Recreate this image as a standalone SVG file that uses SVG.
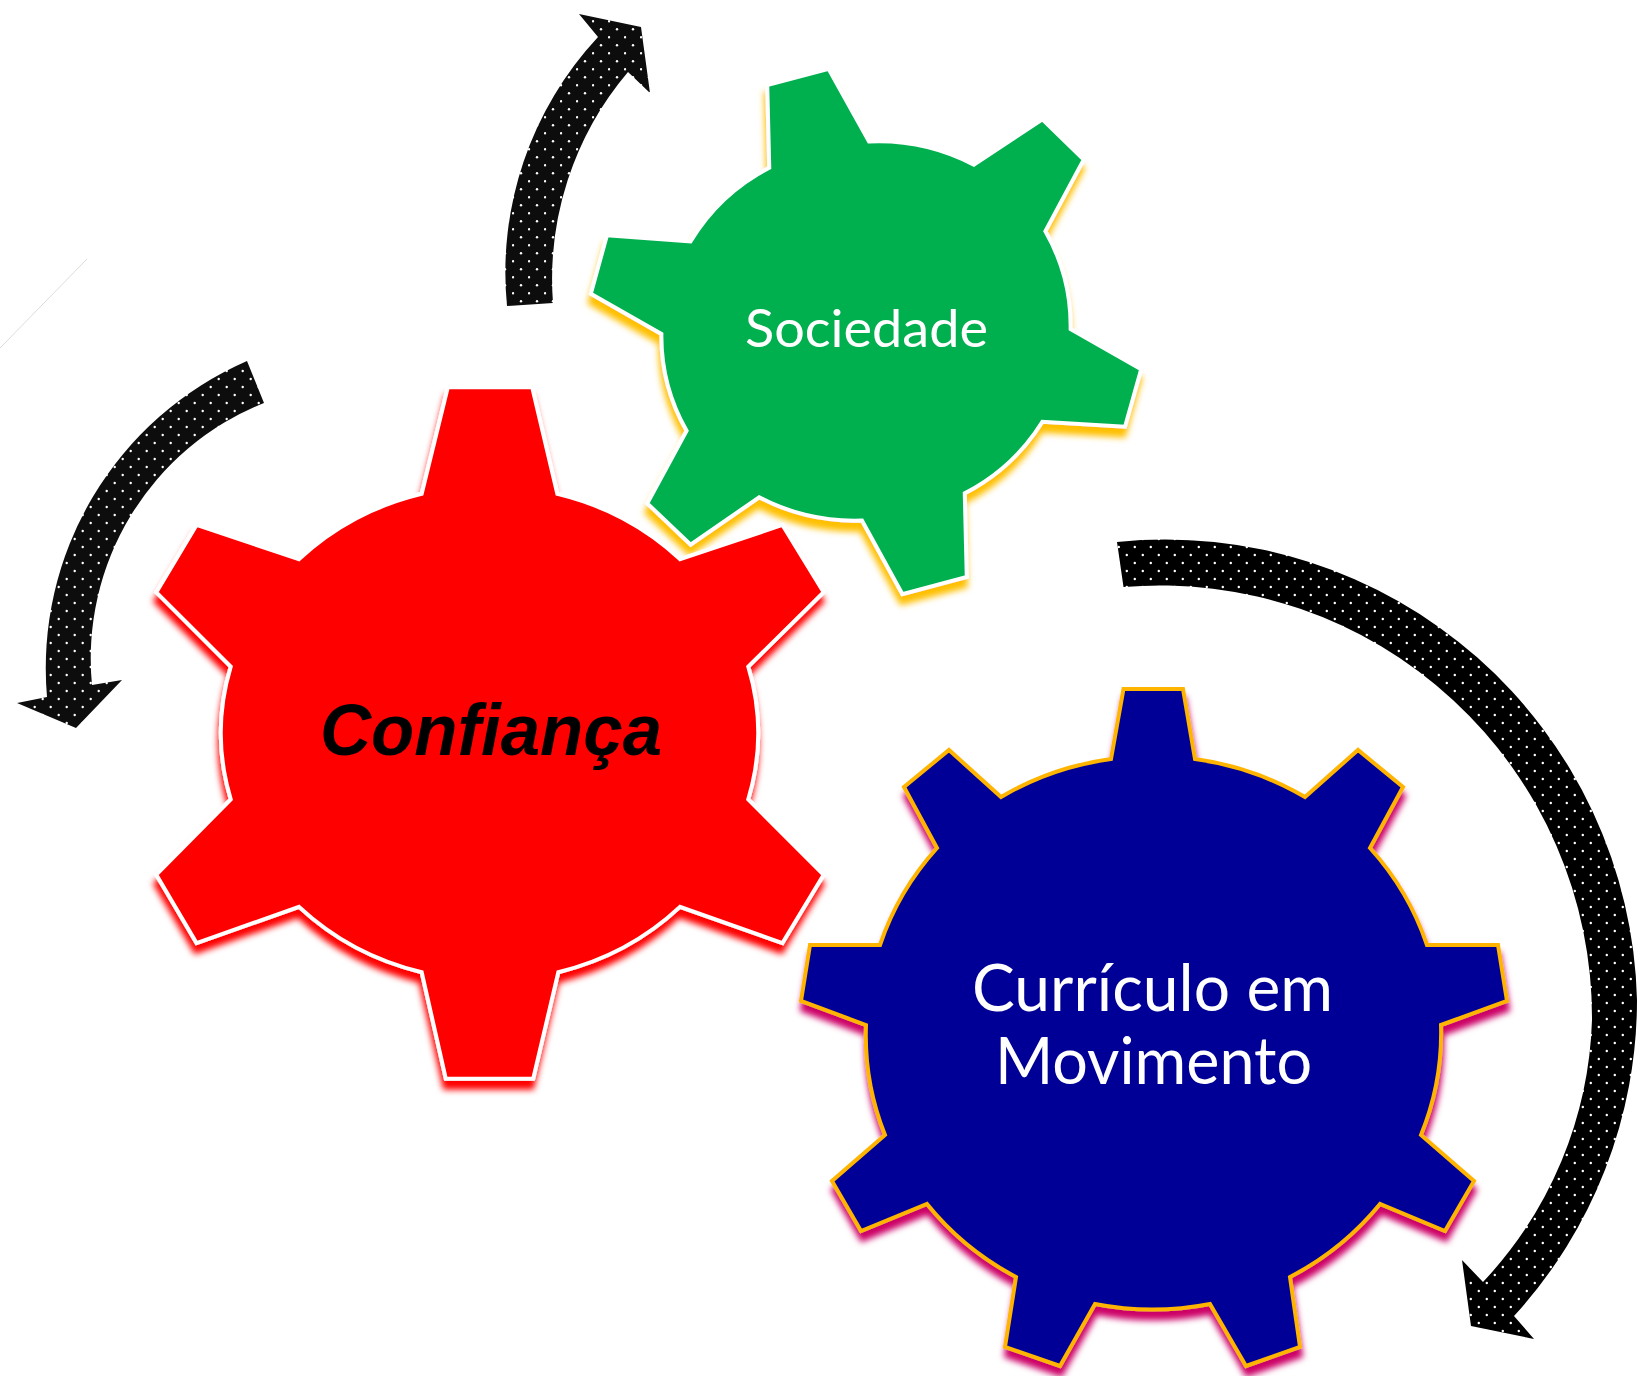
<svg xmlns="http://www.w3.org/2000/svg" width="1640" height="1376" viewBox="0 0 1640 1376">
<style>
.gear{stroke-width:4;stroke-linejoin:miter}
.lbl{fill:#fff;font-family:"Lato","Open Sans",sans-serif;font-size:62px;text-anchor:start}
</style>
<defs>
<pattern id="dotsL" width="16" height="16" patternUnits="userSpaceOnUse">
<rect width="16" height="16" fill="#0d0d0d"/><circle cx="2.7" cy="3" r="1.2" fill="#fff"/><circle cx="10.7" cy="11" r="1.2" fill="#fff"/>
</pattern>
<pattern id="dotsT" width="16" height="16" patternUnits="userSpaceOnUse">
<rect width="16" height="16" fill="#0d0d0d"/><circle cx="1" cy="5.3" r="1.2" fill="#fff"/><circle cx="9" cy="13.3" r="1.2" fill="#fff"/>
</pattern>
<pattern id="dotsB" width="16" height="16" patternUnits="userSpaceOnUse">
<rect width="16" height="16" fill="#000"/><circle cx="14.8" cy="3" r="1.2" fill="#fff"/><circle cx="6.8" cy="11" r="1.2" fill="#fff"/>
</pattern>
<filter id="shGreen" x="-10%" y="-10%" width="120%" height="120%"><feDropShadow dx="-1" dy="9" stdDeviation="3" flood-color="#ffc000"/></filter>
<filter id="shRed" x="-10%" y="-10%" width="120%" height="120%"><feDropShadow dx="-1" dy="9" stdDeviation="3" flood-color="#ff0000"/></filter>
<filter id="shBlue" x="-10%" y="-10%" width="120%" height="120%"><feDropShadow dx="1" dy="9" stdDeviation="3" flood-color="#cc0066"/></filter>
</defs>
<rect width="1640" height="1376" fill="#fff"/>
<line x1="87" y1="259" x2="0" y2="348" stroke="#dcdcd6" stroke-width="1"/>
<g id="connectors">
<path id="arrow-top" fill="url(#dotsT)" d="M507,306 A345,345 0 0 1 598,37 L579,14 L641,27 L650,93 L628,72 A320,320 0 0 0 553,303 Z"/>
<path id="arrow-left" fill="url(#dotsL)" d="M247,361 A335,335 0 0 0 47,697 L17,703 L76,728 L122,680 L92,685 A275,275 0 0 1 264,403 Z"/>
<path id="arrow-right" fill="url(#dotsB)" d="M1117,542 A472,472 0 0 1 1637,1000 A468,468 0 0 1 1514,1316 L1534,1339 L1471,1326 L1462,1260 L1483,1282 A400,400 0 0 0 1592,1020 A432,432 0 0 0 1123.5,587 Z"/>
</g>
<g id="node-sociedade">
<path class="gear" transform="translate(866 331) scale(1.008) translate(-866 -331)" fill="#00b050" stroke="#fff" filter="url(#shGreen)" d="M768,87 L829,71 L869,143 A200,194 0 0 1 973,166 L1041,121 L1082,161 L1044,232 A200,194 0 0 1 1069,329 L1139,369 L1123,426 L1041,421 A200,194 0 0 1 964,492 L966,575 L902,592 L862,519 A200,194 0 0 1 760,496 L692,543 L649,502 L688,430 A200,194 0 0 1 663,334 L593,294 L609,236 L692,242 A200,194 0 0 1 770,169 Z"/>
<text class="lbl" x="745" y="347" style="font-size:52px" textLength="243" lengthAdjust="spacingAndGlyphs">Sociedade</text>
</g>
<g id="node-confianca">
<path class="gear" transform="translate(489.5 733) scale(1.005) translate(-489.5 -734)" fill="#ff0000" stroke="#fff" filter="url(#shRed)" d="M448,390 L532,390 L557,496 A266,246 0 0 1 679,561 L781,527 L822,594 L747,668 A266,246 0 0 1 747,800 L822,875 L781,943 L679,907 A266,246 0 0 1 558,972 L533,1078 L446,1078 L422,972 A266,246 0 0 1 300,907 L198,943 L158,875 L232,800 A266,246 0 0 1 232,668 L158,594 L198,527 L300,561 A266,246 0 0 1 422,496 Z"/>
<text x="320" y="755" style="font-family:'Liberation Sans',Arial,sans-serif;font-size:73px;font-weight:bold;font-style:italic" fill="#000" textLength="342" lengthAdjust="spacingAndGlyphs">Confiança</text>
</g>
<g id="node-curriculo">
<path class="gear" fill="#000096" stroke="#ffb400" filter="url(#shBlue)" d="M1123.5,689 L1183,689 L1195,759 A289,278 0 0 1 1305,797 L1358,750 L1403,787 L1370,848 A289,278 0 0 1 1427,945 L1498,945 L1507,1001 L1441,1025 A289,278 0 0 1 1421,1135 L1474,1181 L1445,1231 L1380,1204 A289,278 0 0 1 1290,1277 L1300,1347 L1246,1366 L1210,1304 A289,278 0 0 1 1095,1304 L1060,1366 L1005,1347 L1016,1277 A289,278 0 0 1 927,1204 L861,1231 L832,1181 L885,1135 A289,278 0 0 1 866,1025 L801,1001 L810,945 L880,945 A289,278 0 0 1 937,848 L904,787 L949,750 L1001,797 A289,278 0 0 1 1111,759 Z"/>
<text class="lbl" x="972" y="1011" style="font-size:65px" textLength="361" lengthAdjust="spacingAndGlyphs">Currículo em</text>
<text class="lbl" x="995" y="1084" style="font-size:65px" textLength="317" lengthAdjust="spacingAndGlyphs">Movimento</text>
</g>
</svg>
